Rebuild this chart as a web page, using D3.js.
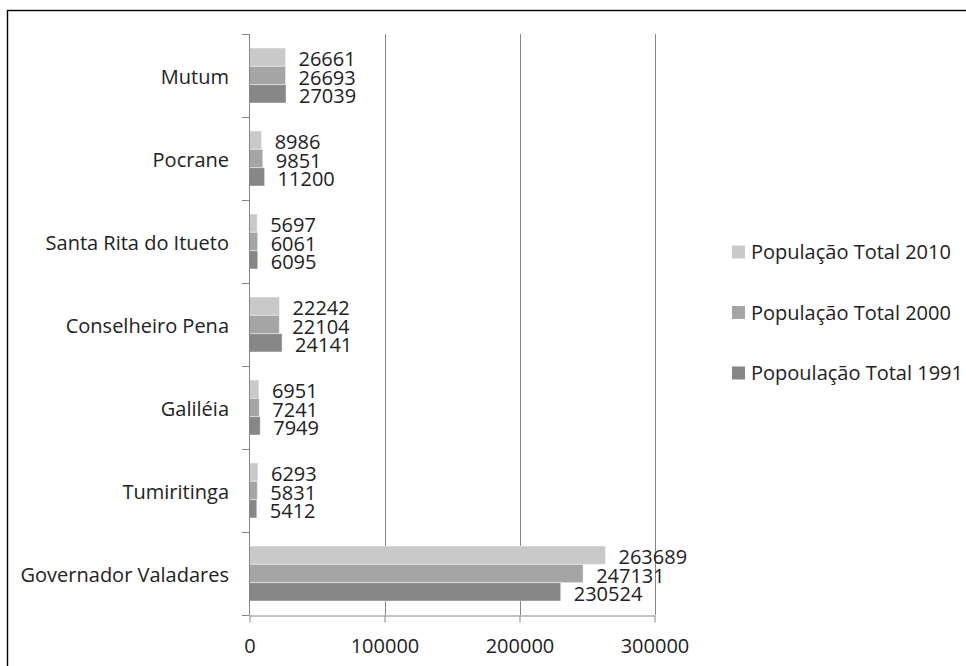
<!DOCTYPE html>
<html>
<head>
<meta charset="utf-8">
<script src="https://cdn.jsdelivr.net/npm/d3@7"></script>
<style>
  html, body { margin: 0; padding: 0; background: #fff; }
  svg { display: block; }
  text { font-family: "Open Sans", "DejaVu Sans", sans-serif; fill: #222; }
</style>
</head>
<body>
<svg id="chart" width="966" height="666"></svg>
<script>
// Municipalities, top to bottom
const categories = ["Mutum", "Pocrane", "Santa Rita do Itueto", "Conselheiro Pena", "Galiléia", "Tumiritinga", "Governador Valadares"];

// Series names (legend order) and values per municipality
const seriesNames = ["População Total 2010", "População Total 2000", "Popoulação Total 1991"];
const pop2010 = [26661, 8986, 5697, 22242, 6951, 6293, 263689];
const pop2000 = [26693, 9851, 6061, 22104, 7241, 5831, 247131];
const pop1991 = [27039, 11200, 6095, 24141, 7949, 5412, 230524];
const xTicks = [0, 100000, 200000, 300000];

const seriesValues = [pop2010, pop2000, pop1991];
const colors = ["#c9c9c9", "#a5a5a5", "#878787"];

const svg = d3.select("#chart");
const fontSize = 20;

// Outer frame
svg.append("rect")
  .attr("x", 7.5).attr("y", 10.5)
  .attr("width", 1200).attr("height", 900)
  .attr("fill", "none").attr("stroke", "#000").attr("stroke-width", 1.4);

const x = d3.scaleLinear().domain([0, 300000]).range([249.5, 654.5]);
const y = d3.scaleBand().domain(categories).range([34, 615]).paddingInner(0).paddingOuter(0);
const inner = d3.scaleBand().domain(d3.range(seriesNames.length))
  .range([14, y.bandwidth() - 14]).padding(0);

const axisColor = "#868686";

// Vertical gridlines
svg.append("g").selectAll("line")
  .data(xTicks.filter(t => t > 0))
  .join("line")
  .attr("x1", d => Math.round(x(d)) + 0.5).attr("x2", d => Math.round(x(d)) + 0.5)
  .attr("y1", 34).attr("y2", 615)
  .attr("stroke", axisColor).attr("stroke-width", 1);

// Bars
const groups = svg.append("g").selectAll("g")
  .data(categories)
  .join("g")
  .attr("transform", c => `translate(0,${y(c)})`);

groups.selectAll("rect")
  .data((c, i) => seriesValues.map((vals, s) => ({ s, v: vals[i] })))
  .join("rect")
  .attr("x", x(0))
  .attr("y", d => inner(d.s))
  .attr("width", d => x(d.v) - x(0))
  .attr("height", inner.bandwidth())
  .attr("fill", d => colors[d.s])
  .attr("stroke", "rgba(255,255,255,0.45)")
  .attr("stroke-width", 1);

// Value labels
groups.selectAll("text")
  .data((c, i) => seriesValues.map((vals, s) => ({ s, v: vals[i] })))
  .join("text")
  .attr("x", d => x(d.v) + 13)
  .attr("y", d => inner(d.s) + inner.bandwidth() / 2 + 9)
  .attr("font-size", fontSize)
  .text(d => d.v);

// Category axis line and boundary ticks
const yAxis = svg.append("g");
yAxis.append("line")
  .attr("x1", 249.5).attr("x2", 249.5)
  .attr("y1", 34).attr("y2", 615)
  .attr("stroke", axisColor);
const boundaries = categories.map(c => y(c)).concat([y.range()[1]]);
yAxis.selectAll("line.tick")
  .data(boundaries)
  .join("line")
  .attr("class", "tick")
  .attr("x1", 242).attr("x2", 249.5)
  .attr("y1", d => Math.round(d) + 0.5).attr("y2", d => Math.round(d) + 0.5)
  .attr("stroke", axisColor);
yAxis.selectAll("text")
  .data(categories)
  .join("text")
  .attr("x", 229)
  .attr("y", c => y(c) + y.bandwidth() / 2 + 8)
  .attr("text-anchor", "end")
  .attr("font-size", fontSize)
  .text(c => c);

// Value axis
const xAxis = svg.append("g")
  .attr("transform", "translate(0,615.5)")
  .call(d3.axisBottom(x).tickValues(xTicks).tickFormat(d3.format("d")).tickSize(7).tickSizeOuter(0).tickPadding(16));
xAxis.select(".domain").attr("stroke", axisColor);
xAxis.selectAll(".tick line").attr("stroke", axisColor);
xAxis.selectAll(".tick text")
  .attr("font-size", fontSize)
  .attr("font-family", "\"Open Sans\", sans-serif")
  .attr("fill", "#222");

// Legend
const legend = svg.append("g").selectAll("g")
  .data(seriesNames)
  .join("g")
  .attr("transform", (d, i) => `translate(732,${252 + i * 60.5})`);
legend.append("rect")
  .attr("x", 0).attr("y", -6.5)
  .attr("width", 13).attr("height", 13)
  .attr("fill", (d, i) => colors[i]);
legend.append("text")
  .attr("x", 19).attr("y", 7)
  .attr("font-size", fontSize)
  .text(d => d);
</script>
</body>
</html>
